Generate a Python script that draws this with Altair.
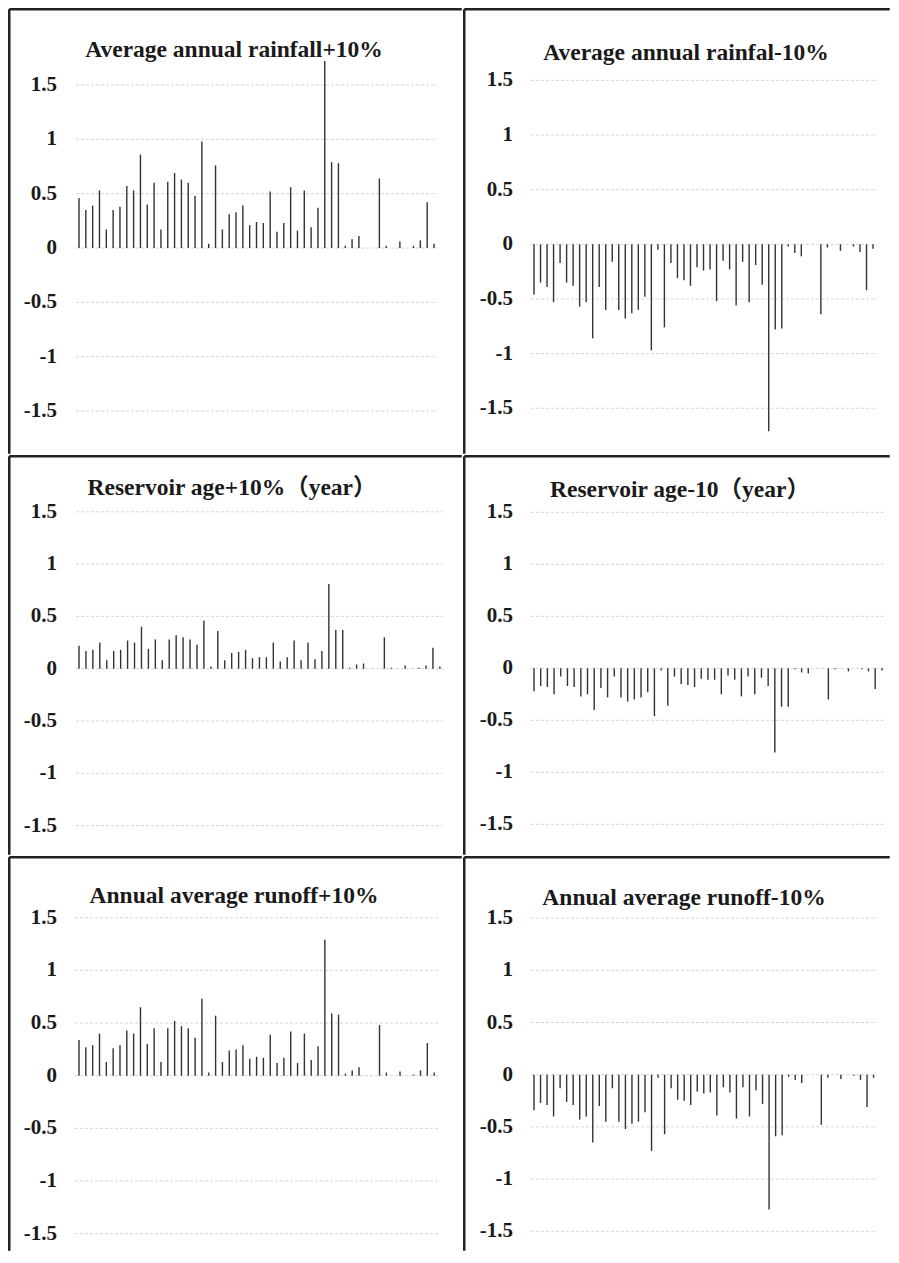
import altair as alt
import pandas as pd

years = list(range(1, 54))

rain_plus = [0.46, 0.35, 0.39, 0.53, 0.17, 0.35, 0.38, 0.57, 0.53, 0.86,
             0.40, 0.60, 0.17, 0.61, 0.69, 0.63, 0.60, 0.48, 0.98, 0.04,
             0.76, 0.17, 0.31, 0.33, 0.39, 0.21, 0.24, 0.23, 0.52, 0.15,
             0.23, 0.56, 0.16, 0.53, 0.19, 0.37, 1.72, 0.79, 0.78, 0.02,
             0.08, 0.11, 0, 0, 0.64, 0.02, 0, 0.06, 0, 0.02,
             0.07, 0.42, 0.04]
rain_minus = [-0.46, -0.35, -0.39, -0.53, -0.17, -0.35, -0.38, -0.57, -0.53, -0.86,
              -0.39, -0.60, -0.16, -0.60, -0.68, -0.63, -0.60, -0.48, -0.97, -0.05,
              -0.76, -0.17, -0.31, -0.33, -0.38, -0.21, -0.24, -0.23, -0.52, -0.15,
              -0.23, -0.56, -0.16, -0.53, -0.19, -0.37, -1.71, -0.78, -0.77, -0.02,
              -0.08, -0.11, 0, 0, -0.64, -0.03, 0, -0.06, 0, -0.02,
              -0.07, -0.42, -0.04]
res_plus = [0.22, 0.17, 0.18, 0.25, 0.08, 0.17, 0.18, 0.27, 0.25, 0.40,
            0.19, 0.28, 0.08, 0.28, 0.32, 0.30, 0.28, 0.23, 0.46, 0.02,
            0.36, 0.08, 0.15, 0.16, 0.18, 0.10, 0.11, 0.11, 0.25, 0.07,
            0.11, 0.27, 0.08, 0.25, 0.09, 0.17, 0.81, 0.37, 0.37, 0.01,
            0.04, 0.05, 0, 0, 0.30, 0.01, 0, 0.03, 0, 0.01,
            0.03, 0.20, 0.02]
res_minus = [-0.22, -0.17, -0.18, -0.25, -0.08, -0.17, -0.18, -0.27, -0.25, -0.40,
             -0.19, -0.28, -0.08, -0.28, -0.32, -0.30, -0.28, -0.23, -0.46, -0.02,
             -0.36, -0.08, -0.15, -0.16, -0.18, -0.10, -0.11, -0.11, -0.25, -0.07,
             -0.11, -0.27, -0.08, -0.25, -0.09, -0.17, -0.81, -0.37, -0.37, -0.01,
             -0.04, -0.05, 0, 0, -0.30, -0.01, 0, -0.03, 0, -0.01,
             -0.03, -0.20, -0.02]
run_plus = [0.34, 0.27, 0.29, 0.40, 0.13, 0.26, 0.29, 0.43, 0.40, 0.65,
            0.30, 0.45, 0.13, 0.45, 0.52, 0.47, 0.45, 0.36, 0.73, 0.03,
            0.57, 0.13, 0.24, 0.25, 0.29, 0.16, 0.18, 0.17, 0.39, 0.12,
            0.17, 0.42, 0.12, 0.40, 0.15, 0.28, 1.29, 0.59, 0.58, 0.02,
            0.05, 0.08, 0, 0, 0.48, 0.03, 0, 0.04, 0, 0.01,
            0.05, 0.31, 0.03]
run_minus = [-0.34, -0.27, -0.29, -0.40, -0.13, -0.26, -0.29, -0.43, -0.40, -0.65,
             -0.30, -0.45, -0.13, -0.45, -0.52, -0.47, -0.45, -0.36, -0.73, -0.03,
             -0.57, -0.13, -0.24, -0.25, -0.29, -0.16, -0.18, -0.17, -0.39, -0.12,
             -0.17, -0.42, -0.12, -0.40, -0.15, -0.28, -1.29, -0.59, -0.58, -0.02,
             -0.05, -0.08, 0, 0, -0.48, -0.03, 0, -0.04, 0, -0.01,
             -0.05, -0.31, -0.03]

titles = ["Average annual rainfall+10%", "Average annual rainfal-10%",
          "Reservoir age+10%（year）", "Reservoir age-10（year）",
          "Annual average runoff+10%", "Annual average runoff-10%"]
y_ticks = [-1.5, -1, -0.5, 0, 0.5, 1, 1.5]
y_labels = ["-1.5", "-1", "-0.5", "0", "0.5", "1", "1.5"]

FONT = "Liberation Serif, Times New Roman, Noto Sans CJK SC, serif"
BW = 2.5  # border width
hb = BW / 2


def panel(values, title, W, H, zero_px, k, x1, dx, g0, g1, tcx, tby, lab_r):
    ymax = zero_px / k
    ymin = -(H - zero_px) / k
    xa = 1 - x1 / dx
    xb = xa + W / dx
    xs = alt.Scale(domain=[xa, xb], nice=False, zero=False)
    ys = alt.Scale(domain=[ymin, ymax], nice=False, zero=False)
    ticks_df = pd.DataFrame({"t": y_ticks, "lab": y_labels})
    grid = alt.Chart(ticks_df).mark_rule(
        color="#d6d6d6", strokeDash=[3, 2], strokeWidth=1
    ).encode(y=alt.Y("t:Q", scale=ys, axis=None),
             x=alt.value(g0), x2=alt.value(g1))
    labels = alt.Chart(ticks_df).mark_text(
        font=FONT, fontSize=21, fontWeight="bold", align="right",
        baseline="middle", color="#1a1a1a"
    ).encode(y=alt.Y("t:Q", scale=ys, axis=None), text="lab:N",
             x=alt.value(lab_r))
    df = pd.DataFrame({"i": years, "v": values})
    bars = alt.Chart(df).mark_rule(color="#333333", strokeWidth=1.4).encode(
        x=alt.X("i:Q", scale=xs, axis=None),
        y=alt.Y("v:Q", scale=ys, axis=None),
        y2=alt.datum(0))
    ttl = alt.Chart(pd.DataFrame({"title": [title]})).mark_text(
        font=FONT, fontSize=23.5, fontWeight="bold", align="center",
        baseline="alphabetic", color="#1a1a1a"
    ).encode(text="title:N", x=alt.value(tcx), y=alt.value(tby))
    one = pd.DataFrame({"a": [0]})
    btop = alt.Chart(one).mark_rule(color="#222222", strokeWidth=BW).encode(
        x=alt.value(hb), x2=alt.value(W - hb), y=alt.value(hb))
    bleft = alt.Chart(one).mark_rule(color="#222222", strokeWidth=BW).encode(
        y=alt.value(hb), y2=alt.value(H - hb), x=alt.value(hb))
    return alt.layer(grid, labels, bars, ttl, btop, bleft).properties(width=W, height=H)


W1, W2 = 455, 428
H1, H2, H3 = 447, 401, 396

tl = panel(rain_plus, titles[0], W1, H1, 240, 108.67, 71, 6.827, 68, 429, 226, 49, 49)
tr = panel(rain_minus, titles[1], W2, H1, 236.3, 109.3, 71, 6.52, 68, 414, 223, 52, 50)
ml = panel(res_plus, titles[2], W1, H2, 213.7, 104.6, 71, 6.94, 68, 435, 224, 40, 49)
mr = panel(res_minus, titles[3], W2, H2, 213.3, 104.0, 71, 6.69, 68, 423, 217, 42, 50)
bl = panel(run_plus, titles[4], W1, H3, 219.7, 105.3, 71, 6.83, 67, 430, 226, 47, 49)
br = panel(run_minus, titles[5], W2, H3, 218.7, 104.4, 71, 6.53, 68, 414, 221, 49, 50)

chart = alt.vconcat(
    alt.hconcat(tl, tr, spacing=0),
    alt.hconcat(ml, mr, spacing=0),
    alt.hconcat(bl, br, spacing=0),
    spacing=0,
).properties(padding=0).configure_view(strokeWidth=0)

chart.save("out.html", embed_options={"renderer": "svg", "actions": False})
